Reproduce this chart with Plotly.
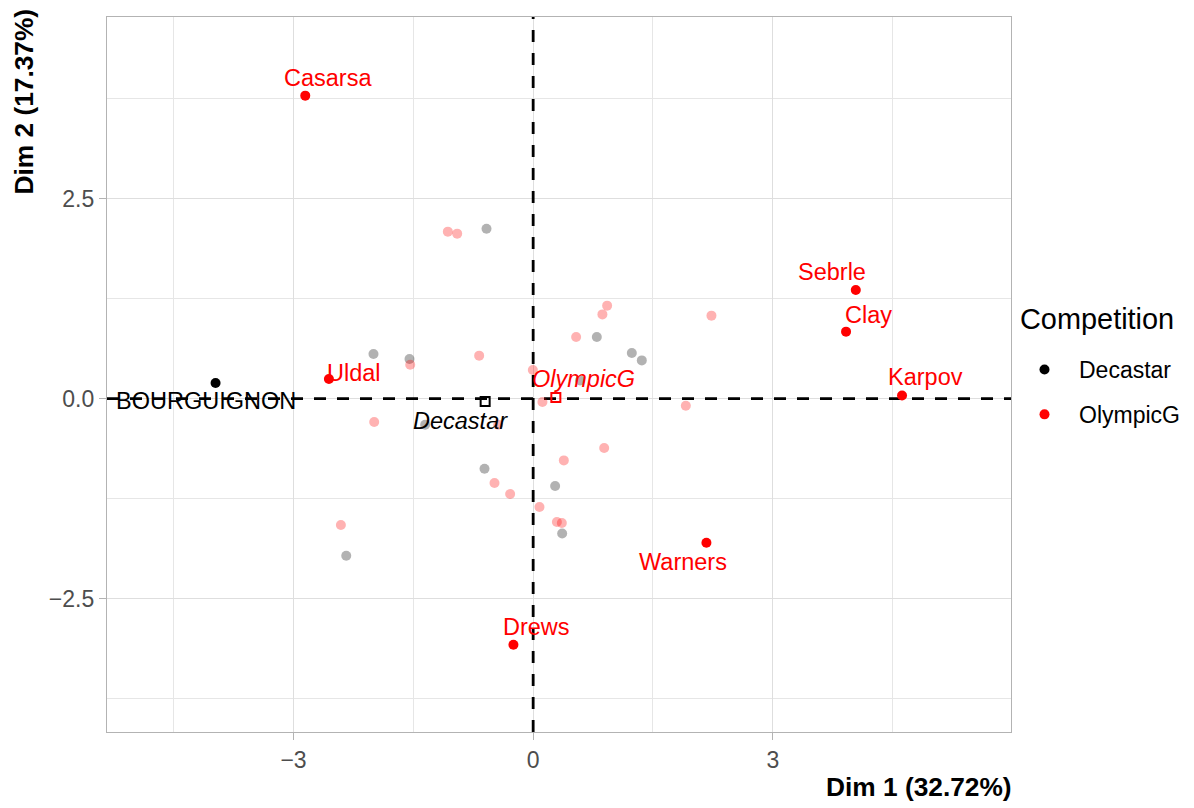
import plotly.graph_objects as go

# ---------------- data ----------------
# Decastar individuals, not labelled (drawn transparent)
dec_x = [-0.584, -1.999, -1.548, 0.797, 1.235, 1.360, -0.609, 0.275, 0.363, -2.340, 0.588, -1.352]
dec_y = [2.125, 0.559, 0.496, 0.771, 0.571, 0.479, -0.875, -1.091, -1.684, -1.963, 0.229, -0.325]
# Decastar labelled individuals
dec_lab_names = ["BOURGUIGNON"]
dec_lab_x = [-3.976]
dec_lab_y = [0.196]

# OlympicG individuals, not labelled (drawn transparent)
oly_x = [-1.068, -0.951, 0.926, 0.867, 2.232, 0.538, -0.676, -1.539, -0.004, 0.116, 1.911,
         -1.990, -0.438, 0.384, 0.889, -0.484, -0.288, 0.079, 0.297, 0.359, -2.407]
oly_y = [2.088, 2.063, 1.163, 1.054, 1.038, 0.771, 0.538, 0.425, 0.359, -0.041, -0.088,
         -0.291, -0.325, -0.771, -0.616, -1.054, -1.191, -1.354, -1.541, -1.554, -1.579]
# OlympicG labelled individuals
oly_lab_names = ["Casarsa", "Uldal", "Sebrle", "Clay", "Karpov", "Warners", "Drews"]
oly_lab_x = [-2.853, -2.557, 4.039, 3.917, 4.618, 2.169, -0.247]
oly_lab_y = [3.788, 0.246, 1.359, 0.838, 0.041, -1.800, -3.075]

# group centroids (qualitative supplementary variable)
quali_names = ["Decastar", "OlympicG"]
quali_x = [-0.601, 0.284]
quali_y = [-0.034, 0.016]

x_tick_vals = [-3, 0, 3]
x_tick_text = ["\u22123", "0", "3"]
y_tick_vals = [-2.5, 0.0, 2.5]
y_tick_text = ["\u22122.5", "0.0", "2.5"]
x_minor_vals = [-4.5, -1.5, 1.5, 4.5]
y_minor_vals = [-3.75, -1.25, 1.25, 3.75]

x_title = "Dim 1 (32.72%)"
y_title = "Dim 2 (17.37%)"
legend_title = "Competition"

# axis limits
X_RANGE = [-5.335, 5.982]
Y_RANGE = [-4.166, 4.771]

# ---------------- styling ----------------
FONT = "Liberation Sans, Arial, Helvetica, sans-serif"
RED = "#FF0000"
BLACK = "#000000"
W, H = 1194, 808
ML, MR, MT, MB = 107, 183, 17, 76
pw = W - ML - MR
ph = H - MT - MB


def px_x(p):  # pixel column -> paper x
    return (p - ML) / pw


def px_y(p):  # pixel row -> paper y
    return ((H - MB) - p) / ph


# label offsets in pixels (dx right, dy down)
label_offsets = {
    "BOURGUIGNON": (-10, 18),
    "Casarsa": (23, -18),
    "Uldal": (25, -6),
    "Sebrle": (-24, -18),
    "Clay": (22, -17),
    "Karpov": (23, -18),
    "Warners": (-23, 19),
    "Drews": (23, -18),
    "Decastar": (-25, 20),
    "OlympicG": (28, -18),
}

fig = go.Figure()

# dashed reference lines at 0 (drawn first: above grid, below points)
DASH = dict(color=BLACK, width=2.8, dash="12px,11px")
fig.add_trace(go.Scatter(x=X_RANGE, y=[0, 0], mode="lines", line=DASH,
                         showlegend=False, hoverinfo="skip", cliponaxis=True))
fig.add_trace(go.Scatter(x=[0, 0], y=Y_RANGE, mode="lines", line=DASH,
                         showlegend=False, hoverinfo="skip", cliponaxis=True))

# transparent (non-labelled) points
fig.add_trace(go.Scatter(x=dec_x, y=dec_y, mode="markers",
                         marker=dict(color=BLACK, size=10, opacity=0.3),
                         showlegend=False, hoverinfo="skip"))
fig.add_trace(go.Scatter(x=oly_x, y=oly_y, mode="markers",
                         marker=dict(color=RED, size=10, opacity=0.3),
                         showlegend=False, hoverinfo="skip"))

# labelled points (solid) - also used for legend
fig.add_trace(go.Scatter(x=dec_lab_x, y=dec_lab_y, mode="markers", name="Decastar",
                         text=dec_lab_names, legendgroup="Decastar",
                         marker=dict(color=BLACK, size=10)))
fig.add_trace(go.Scatter(x=oly_lab_x, y=oly_lab_y, mode="markers", name="OlympicG",
                         text=oly_lab_names, legendgroup="OlympicG",
                         marker=dict(color=RED, size=10)))

# centroids as open squares
fig.add_trace(go.Scatter(x=quali_x, y=quali_y, mode="markers",
                         marker=dict(symbol="square-open", size=9,
                                     color=[BLACK, RED], line=dict(width=2)),
                         showlegend=False, text=quali_names))


# labels
def add_label(name, x, y, color, italic=False):
    dx, dy = label_offsets[name]
    txt = f"<i>{name}</i>" if italic else name
    fig.add_annotation(x=x, y=y, xref="x", yref="y", text=txt, showarrow=False,
                       xshift=dx, yshift=-dy, xanchor="center", yanchor="middle",
                       font=dict(family=FONT, size=23.5, color=color))


for n, x, y in zip(dec_lab_names, dec_lab_x, dec_lab_y):
    add_label(n, x, y, BLACK)
for n, x, y in zip(oly_lab_names, oly_lab_x, oly_lab_y):
    add_label(n, x, y, RED)
for n, x, y, c in zip(quali_names, quali_x, quali_y, [BLACK, RED]):
    add_label(n, x, y, c, italic=True)

# axis titles as annotations (ggplot-like placement)
fig.add_annotation(xref="paper", yref="paper", x=1.0, y=px_y(787), xshift=3,
                   xanchor="right", yanchor="middle", showarrow=False,
                   text=f"<b>{x_title}</b>", font=dict(family=FONT, size=26.3, color=BLACK))
fig.add_annotation(xref="paper", yref="paper", x=px_x(24), y=px_y(101.5),
                   xanchor="center", yanchor="middle", showarrow=False, textangle=-90,
                   text=f"<b>{y_title}</b>", font=dict(family=FONT, size=26.3, color=BLACK))
# legend title
fig.add_annotation(xref="paper", yref="paper", x=px_x(1018), y=px_y(319),
                   xanchor="left", yanchor="middle", showarrow=False,
                   text=legend_title, font=dict(family=FONT, size=28.9, color=BLACK))

axis_common = dict(
    showgrid=True, gridcolor="#DEDEDE", gridwidth=1.3,
    zeroline=False, showline=True, mirror=True, linecolor="#B3B3B3", linewidth=1.3,
    ticks="outside", ticklen=7, tickcolor="#B3B3B3", tickwidth=1.3,
    tickfont=dict(family=FONT, size=23, color="#4D4D4D"),
)

fig.update_xaxes(range=X_RANGE, tickvals=x_tick_vals, ticktext=x_tick_text,
                 minor=dict(tickvals=x_minor_vals, showgrid=True, gridcolor="#E6E6E6",
                            gridwidth=1, ticks=""),
                 **axis_common)
fig.update_yaxes(range=Y_RANGE, tickvals=y_tick_vals, ticktext=y_tick_text,
                 minor=dict(tickvals=y_minor_vals, showgrid=True, gridcolor="#E6E6E6",
                            gridwidth=1, ticks=""),
                 **axis_common)

fig.update_layout(
    width=W, height=H,
    margin=dict(l=ML, r=MR, t=MT, b=MB, pad=0, autoexpand=False),
    paper_bgcolor="white", plot_bgcolor="white",
    font=dict(family=FONT, color=BLACK),
    legend=dict(
        x=px_x(1010), y=px_y(348), xanchor="left", yanchor="top",
        font=dict(family=FONT, size=23, color=BLACK),
        tracegroupgap=12, itemwidth=59, bgcolor="rgba(0,0,0,0)", borderwidth=0,
    ),
    hovermode="closest",
)

fig.write_html("out.html", config={"displayModeBar": False},
               post_script="document.body.style.margin='0';document.body.style.overflow='hidden';")
